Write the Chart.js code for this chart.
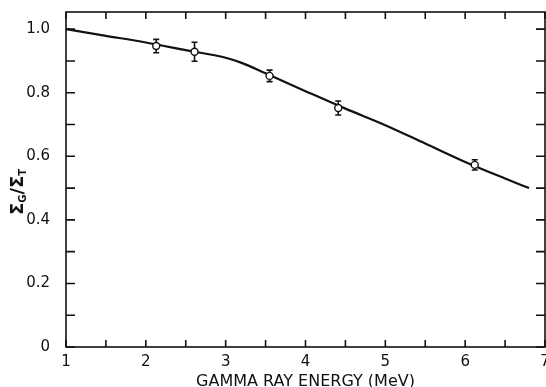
<!DOCTYPE html>
<html>
<head>
<meta charset="utf-8">
<script src="https://cdn.jsdelivr.net/npm/chart.js@4.4.1/dist/chart.umd.min.js"></script>
<style>
  html, body { margin: 0; padding: 0; background: #fff; }
  #wrap { width: 546px; height: 387px; }
</style>
</head>
<body>
<div id="wrap"><canvas id="chart" width="546" height="387"></canvas></div>
<script>
// measured points (energy in MeV, ratio, error half-width)
const pointEnergy = [2.13, 2.61, 3.55, 4.41, 6.12];
const pointRatio = [0.947, 0.929, 0.853, 0.752, 0.573];
const pointError = [0.021, 0.030, 0.018, 0.022, 0.016];

// smooth curve drawn through the data
const curveEnergy = [1.0, 1.5, 2.0, 2.5, 3.0, 3.2, 3.5, 4.0, 4.5, 5.0, 5.5, 6.0, 6.5, 6.8];
const curveRatio = [1.0, 0.979, 0.958, 0.934, 0.910, 0.894, 0.861, 0.805, 0.75, 0.698, 0.64, 0.582, 0.53, 0.5];

const xTicks = [1, 1.5, 2, 2.5, 3, 3.5, 4, 4.5, 5, 5.5, 6, 6.5, 7];
const yTicks = [0, 0.1, 0.2, 0.3, 0.4, 0.5, 0.6, 0.7, 0.8, 0.9, 1.0];

const ink = '#111';
const tickFont = { family: 'DejaVu Sans', size: 15 };

// frame, inward ticks, error bars and y title
const framePlugin = {
  id: 'frame',
  afterDatasetDraw(chart, args) {
    if (args.index !== 1) return;
    const ctx = chart.ctx;
    const x = chart.scales.x, y = chart.scales.y;
    ctx.save();
    ctx.strokeStyle = ink;
    ctx.lineWidth = 1.6;
    pointEnergy.forEach((e, i) => {
      const px = x.getPixelForValue(e);
      const y1 = y.getPixelForValue(pointRatio[i] + pointError[i]);
      const y2 = y.getPixelForValue(pointRatio[i] - pointError[i]);
      ctx.beginPath();
      ctx.moveTo(px, y1); ctx.lineTo(px, y2);
      ctx.moveTo(px - 3, y1); ctx.lineTo(px + 3, y1);
      ctx.moveTo(px - 3, y2); ctx.lineTo(px + 3, y2);
      ctx.stroke();
    });
    ctx.restore();
  },
  afterDraw(chart) {
    const ctx = chart.ctx;
    const a = chart.chartArea;
    const x = chart.scales.x, y = chart.scales.y;
    ctx.save();
    ctx.strokeStyle = ink;
    ctx.lineWidth = 1.6;
    ctx.strokeRect(a.left, a.top, a.right - a.left, a.bottom - a.top);
    ctx.beginPath();
    xTicks.forEach(v => {
      const px = x.getPixelForValue(v);
      ctx.moveTo(px, a.bottom); ctx.lineTo(px, a.bottom - 7);
      ctx.moveTo(px, a.top); ctx.lineTo(px, a.top + 7);
    });
    yTicks.forEach(v => {
      const py = y.getPixelForValue(v);
      ctx.moveTo(a.left, py); ctx.lineTo(a.left + 9, py);
      ctx.moveTo(a.right, py); ctx.lineTo(a.right - 9, py);
    });
    ctx.stroke();

    // y axis title: Σ_G / Σ_T
    ctx.translate(18, 192);
    ctx.rotate(-Math.PI / 2);
    ctx.fillStyle = ink;
    ctx.textBaseline = 'middle';
    const big = 'bold 18px DejaVu Sans', small = 'bold 10px DejaVu Sans';
    const parts = [['Σ', big, 0], ['G', small, 5], ['/', big, 0], ['Σ', big, 0], ['T', small, 5]];
    let w = 0;
    parts.forEach(p => { ctx.font = p[1]; w += ctx.measureText(p[0]).width; });
    let cx = -w / 2;
    parts.forEach(p => {
      ctx.font = p[1];
      ctx.fillText(p[0], cx, p[2]);
      cx += ctx.measureText(p[0]).width;
    });
    ctx.restore();
  }
};

new Chart(document.getElementById('chart'), {
  type: 'scatter',
  data: {
    datasets: [
      {
        label: 'measured',
        data: pointEnergy.map((e, i) => ({ x: e, y: pointRatio[i] })),
        pointRadius: 3.5,
        pointBackgroundColor: '#fff',
        pointBorderColor: ink,
        pointBorderWidth: 1.4,
        showLine: false
      },
      {
        label: 'curve',
        data: curveEnergy.map((e, i) => ({ x: e, y: curveRatio[i] })),
        showLine: true,
        borderColor: ink,
        borderWidth: 2.2,
        pointRadius: 0,
        cubicInterpolationMode: 'monotone'
      }
    ]
  },
  options: {
    responsive: false,
    animation: false,
    layout: { autoPadding: false, padding: { top: 12, right: 1, left: 0, bottom: 0 } },
    plugins: { legend: { display: false }, tooltip: { enabled: false } },
    scales: {
      x: {
        type: 'linear',
        min: 1,
        max: 7,
        afterBuildTicks: s => { s.ticks = xTicks.map(v => ({ value: v })); },
        afterFit: s => { s.height = 40; s.paddingLeft = 0; s.paddingRight = 0; },
        grid: { display: false },
        border: { display: false },
        ticks: {
          color: ink,
          font: tickFont,
          padding: -2,
          maxRotation: 0,
          autoSkip: false,
          callback: v => Number.isInteger(v) ? String(v) : ''
        },
        title: {
          display: true,
          text: 'GAMMA RAY ENERGY (MeV)',
          color: ink,
          font: { family: 'DejaVu Sans', size: 16 },
          padding: { top: 0, bottom: -4 }
        }
      },
      y: {
        min: 0,
        max: 1.054,
        afterBuildTicks: s => { s.ticks = yTicks.map(v => ({ value: v })); },
        afterFit: s => { s.width = 66; s.paddingTop = 0; s.paddingBottom = 0; },
        grid: { display: false },
        border: { display: false },
        ticks: {
          color: ink,
          font: tickFont,
          padding: 8,
          autoSkip: false,
          callback: v => {
            const t = Math.round(v * 10);
            if (t === 0) return '0';
            return t % 2 === 0 ? (t / 10).toFixed(1) : '';
          }
        }
      }
    }
  },
  plugins: [framePlugin]
});
</script>
</body>
</html>
